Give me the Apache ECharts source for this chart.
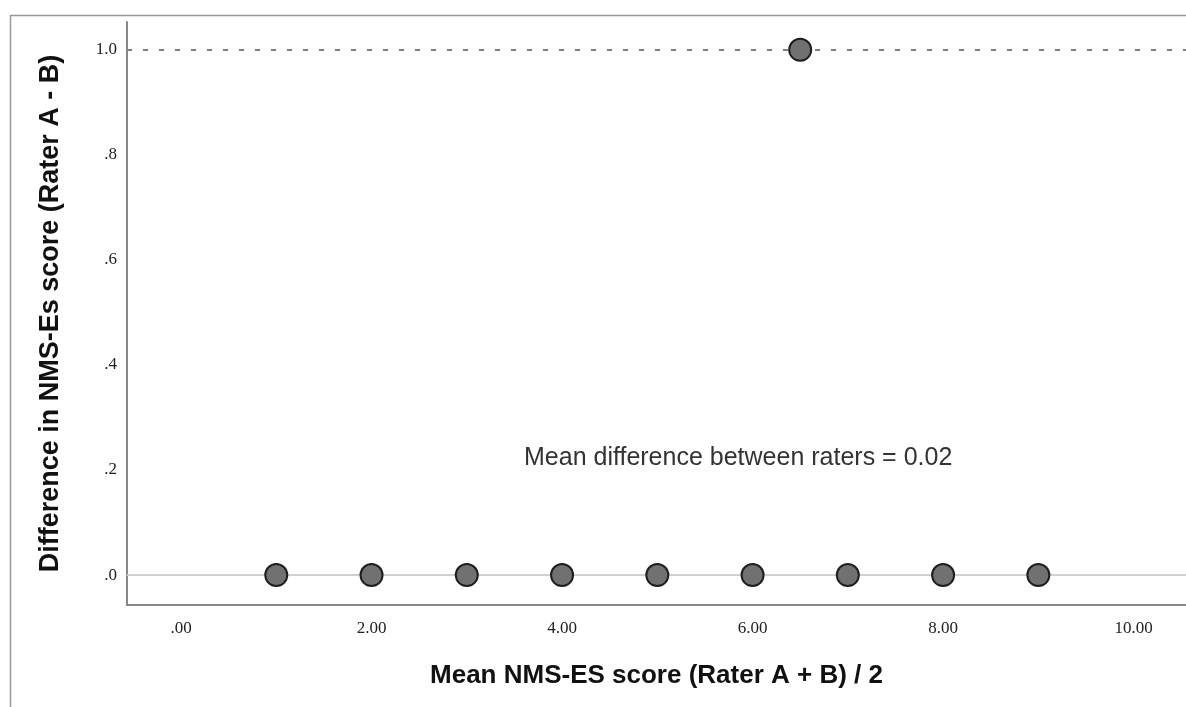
<!DOCTYPE html>
<html><head><meta charset="utf-8">
<script src="https://cdn.jsdelivr.net/npm/echarts@6/dist/echarts.min.js"></script>
<style>html,body{margin:0;padding:0;background:#fff}#c{width:1186px;height:707px}</style>
</head><body><div id="c"></div>
<script>
const meanScores = [1, 2, 3, 4, 5, 6, 7, 8, 9, 6.5];
const differences = [0, 0, 0, 0, 0, 0, 0, 0, 0, 1];
const xTicks = [0, 2, 4, 6, 8, 10];
const yTicks = [0, 0.2, 0.4, 0.6, 0.8, 1.0];
const meanDiffText = 'Mean difference between raters = 0.02';

const chart = echarts.init(document.getElementById('c'));
const pts = meanScores.map((x, i) => [x, differences[i]]);
chart.setOption({
  animation: false,
  grid: {left: 127, top: 22, right: 0, bottom: 102},
  xAxis: {
    type: 'value', min: -0.567, max: 10.55,
    name: 'Mean NMS-ES score (Rater A + B) / 2', nameLocation: 'middle', nameGap: 58,
    nameTextStyle: {fontFamily: 'Liberation Sans', fontWeight: 'bold', fontSize: 26, color: '#111'},
    axisLine: {onZero: false, lineStyle: {color: '#888', width: 2}},
    axisTick: {show: false},
    splitLine: {show: false},
    axisLabel: {customValues: xTicks, fontFamily: 'Liberation Serif', fontSize: 17, color: '#222', margin: 15,
      formatter: v => v === 0 ? '.00' : v.toFixed(2)}
  },
  yAxis: {
    type: 'value', min: -0.057, max: 1.053,
    name: 'Difference in NMS-Es score (Rater A - B)', nameLocation: 'middle', nameGap: 63, nameRotate: 90,
    nameTextStyle: {fontFamily: 'Liberation Sans', fontWeight: 'bold', fontSize: 27, color: '#111'},
    axisLine: {show: true, onZero: false, lineStyle: {color: '#888', width: 2}},
    axisTick: {show: false},
    splitLine: {show: false},
    axisLabel: {customValues: yTicks, fontFamily: 'Liberation Serif', fontSize: 17, color: '#222', margin: 10,
      formatter: v => v === 1 ? '1.0' : '.' + Math.round(v * 10)}
  },
  series: [{
    type: 'scatter', data: pts, symbolSize: 22,
    itemStyle: {color: '#717171', borderColor: '#1e1e1e', borderWidth: 2, opacity: 1},
    markLine: {
      silent: true, symbol: 'none', label: {show: false},
      data: [
        {yAxis: 1, lineStyle: {type: [5, 11], color: '#808080', width: 2}},
        {yAxis: 0, lineStyle: {type: 'solid', color: '#d0d0d0', width: 2}}
      ]
    },
    z: 5
  }],
  graphic: [
    {type: 'line', shape: {x1: 10.5, y1: 15, x2: 10.5, y2: 707}, style: {stroke: '#999', lineWidth: 1.5}},
    {type: 'line', shape: {x1: 10, y1: 15.5, x2: 1186, y2: 15.5}, style: {stroke: '#999', lineWidth: 1.5}},
    {type: 'text', x: 524, y: 458, style: {text: meanDiffText, font: '25px "Liberation Sans"', fill: '#333', verticalAlign: 'middle'}}
  ]
});
</script></body></html>
